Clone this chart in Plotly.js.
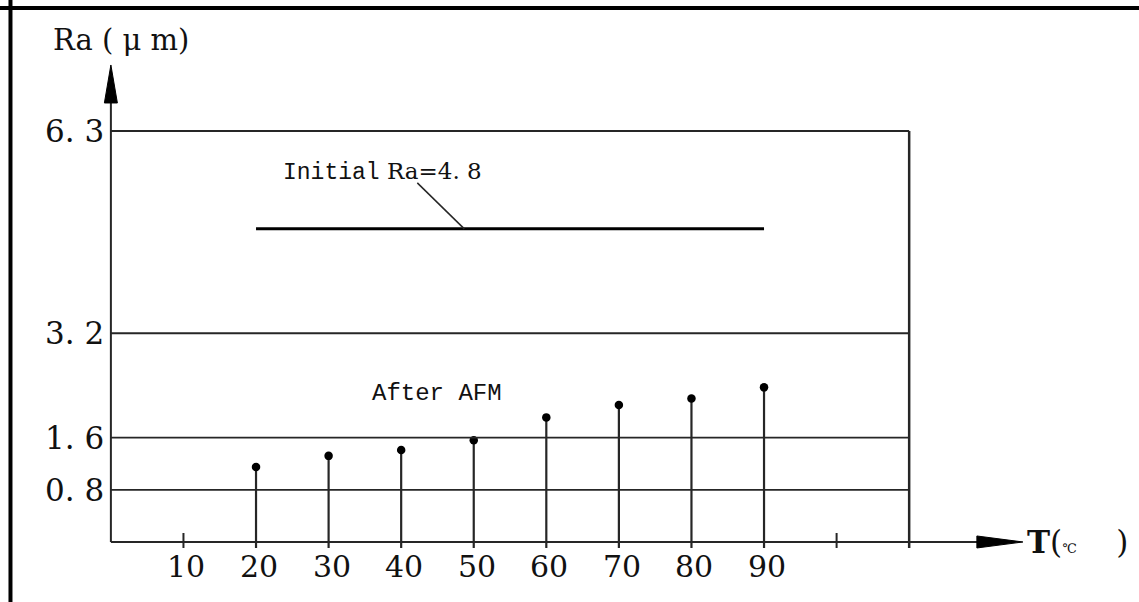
<!DOCTYPE html>
<html>
<head>
<meta charset="utf-8">
<script src="https://cdn.plot.ly/plotly-3.0.1.min.js"></script>
<style>html,body{margin:0;padding:0;background:#fff;}#chart{width:1139px;height:602px;}</style>
</head>
<body>
<div id="chart"></div>
<script>
// ---- data ----
var temps = [20, 30, 40, 50, 60, 70, 80, 90];
var raAfter = [1.15, 1.32, 1.41, 1.56, 1.91, 2.10, 2.20, 2.37];
var initialRa = 4.8;
var initialRange = [20, 90];
var xTicks = [10, 20, 30, 40, 50, 60, 70, 80, 90];
var xTickLabels = ['10', '20', '30', '40', '50', '60', '70', '80', '90'];
var xExtraTicks = [10, 100];
var yLevels = [0.8, 1.6, 3.2, 6.3];
var yTickLabels = ['0. 8', '1. 6', '3. 2', '6. 3'];
var boxRight = 110;

var serif = 'DejaVu Serif, Liberation Serif, serif';
var mono = 'Liberation Mono, DejaVu Sans Mono, monospace';
var ink = '#111';
var lineCol = '#262626';

// stems built from data
var stemX = [], stemY = [];
temps.forEach(function (t, i) { stemX.push(t, t, null); stemY.push(0, raAfter[i], null); });

var traces = [
  { x: stemX, y: stemY, mode: 'lines', line: { color: lineCol, width: 2.2 }, hoverinfo: 'skip', showlegend: false },
  { x: temps, y: raAfter, mode: 'markers', marker: { color: '#000', size: 8.5 }, showlegend: false },
  { x: initialRange, y: [initialRa, initialRa], mode: 'lines', line: { color: '#000', width: 3 }, showlegend: false }
];

var shapes = [];
// outer frame (top, left)
shapes.push({ type: 'line', xref: 'paper', yref: 'paper', x0: 0, x1: 1, y0: 0.9867, y1: 0.9867, line: { color: '#000', width: 4 } });
shapes.push({ type: 'line', xref: 'paper', yref: 'paper', x0: 0.0092, x1: 0.0092, y0: 0, y1: 1, line: { color: '#000', width: 4 } });
// horizontal level lines
yLevels.forEach(function (v) {
  shapes.push({ type: 'line', xref: 'x', yref: 'y', x0: 0, x1: boxRight, y0: v, y1: v, line: { color: lineCol, width: 1.8 } });
});
// right side of box
shapes.push({ type: 'line', xref: 'x', yref: 'y', x0: boxRight, x1: boxRight, y0: 0, y1: yLevels[yLevels.length - 1], line: { color: lineCol, width: 2.5 } });
shapes.push({ type: 'line', xref: 'x', yref: 'y', ysizemode: 'pixel', yanchor: 0, x0: boxRight, x1: boxRight, y0: -6, y1: 0, line: { color: lineCol, width: 2.5 } });
// x axis line + arrow
shapes.push({ type: 'line', xref: 'x', yref: 'y', xsizemode: 'pixel', xanchor: 0, x0: 0, x1: 870, y0: 0, y1: 0, line: { color: lineCol, width: 2 } });
shapes.push({ type: 'path', xref: 'x', yref: 'y', xsizemode: 'pixel', ysizemode: 'pixel', xanchor: 0, yanchor: 0, path: 'M 866,6 L 866,-6 L 912,0 Z', fillcolor: '#000', line: { color: '#000', width: 1 } });
// y axis line + arrow
shapes.push({ type: 'line', xref: 'x', yref: 'y', ysizemode: 'pixel', yanchor: 0, x0: 0, x1: 0, y0: 0, y1: 442, line: { color: lineCol, width: 2 } });
shapes.push({ type: 'path', xref: 'x', yref: 'y', xsizemode: 'pixel', ysizemode: 'pixel', xanchor: 0, yanchor: 0, path: 'M -6.5,439 L 6.5,439 L 0,477 Z', fillcolor: '#000', line: { color: '#000', width: 1 } });
// stubs below axis for stems
temps.forEach(function (t) {
  shapes.push({ type: 'line', xref: 'x', yref: 'y', ysizemode: 'pixel', yanchor: 0, x0: t, x1: t, y0: -6, y1: 0, line: { color: lineCol, width: 2.2 } });
});
// extra tick marks
xExtraTicks.forEach(function (t) {
  shapes.push({ type: 'line', xref: 'x', yref: 'y', ysizemode: 'pixel', yanchor: 0, x0: t, x1: t, y0: -6, y1: 9, line: { color: lineCol, width: 2 } });
});
// leader line for initial Ra
shapes.push({ type: 'line', xref: 'x', yref: 'y', xsizemode: 'pixel', ysizemode: 'pixel', xanchor: 48.7, yanchor: initialRa, x0: 0, y0: 0, x1: -47, y1: 46, line: { color: lineCol, width: 1.5 } });

var annotations = [];
xTicks.forEach(function (t, i) {
  annotations.push({ x: t, y: 0, xref: 'x', yref: 'y', text: xTickLabels[i], showarrow: false, xanchor: 'center', yanchor: 'middle', xshift: 3, yshift: -25, font: { family: serif, size: 30, color: ink } });
});
yLevels.forEach(function (v, i) {
  annotations.push({ x: 0, y: v, xref: 'x', yref: 'y', text: yTickLabels[i], showarrow: false, xanchor: 'right', yanchor: 'middle', xshift: -5, font: { family: serif, size: 31, color: ink } });
});
annotations.push({ xref: 'paper', yref: 'paper', x: 0.106, y: 0.9336, text: 'Ra ( μ m)', showarrow: false, xanchor: 'center', yanchor: 'middle', font: { family: serif, size: 29, color: ink } });
annotations.push({ xref: 'paper', yref: 'y', x: 0.9000, y: 0, text: '<b>T</b>(<span style="font-size:13px">℃</span>    )', showarrow: false, xanchor: 'left', yanchor: 'middle', font: { family: serif, size: 31, color: ink } });
annotations.push({ xref: 'x', yref: 'y', x: initialRange[0], y: initialRa, xanchor: 'left', yanchor: 'middle', xshift: 25, yshift: 57, text: '<span style="font-family:Liberation Mono">Initial</span> Ra=4. 8', showarrow: false, font: { family: serif, size: 23, color: ink } });
annotations.push({ xref: 'x', yref: 'y', x: 44.9, y: 2.28, xanchor: 'center', yanchor: 'middle', text: 'After AFM', showarrow: false, font: { family: mono, size: 24, color: ink } });

var layout = {
  width: 1139, height: 602,
  margin: { l: 0, r: 0, t: 0, b: 0, pad: 0 },
  paper_bgcolor: '#fff', plot_bgcolor: '#fff',
  xaxis: { range: [-15.28, 141.67], visible: false, fixedrange: true },
  yaxis: { range: [-0.920, 8.308], visible: false, fixedrange: true },
  shapes: shapes,
  annotations: annotations,
  showlegend: false
};

Plotly.newPlot('chart', traces, layout, { staticPlot: true, displayModeBar: false });
</script>
</body>
</html>
